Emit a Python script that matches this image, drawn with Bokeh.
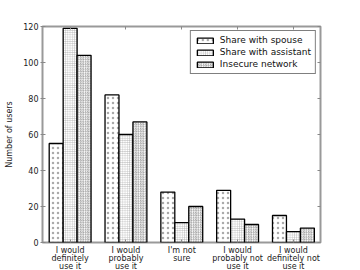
from bokeh.plotting import figure
from bokeh.models import Range1d, LinearAxis, FixedTicker, Legend, LegendItem, ColumnDataSource
from bokeh.embed import file_html
from bokeh.resources import INLINE

categories = ["I would\ndefinitely\nuse it", "I would\nprobably\nuse it", "I'm not\nsure",
              "I would\nprobably not\nuse it", "I would\ndefinitely not\nuse it"]
spouse = [55, 82, 28, 29, 15]
assistant = [119, 60, 11, 13, 6]
insecure = [104, 67, 20, 10, 8]
series_names = ["Share with spouse", "Share with assistant", "Insecure network"]
y_ticks = [0, 20, 40, 60, 80, 100, 120]

FONT = "DejaVu Sans"

p = figure(frame_width=278, frame_height=216, output_backend="svg", toolbar_location=None,
           x_range=Range1d(-0.495, 4.485), y_range=Range1d(0, 120),
           min_border_left=42, min_border_top=26, min_border_right=29, min_border_bottom=26)
p.background_fill_color = "white"
p.border_fill_color = "white"
p.outline_line_color = "#999999"
p.outline_line_width = 2
p.grid.visible = False

bw = 0.25
idx = list(range(len(categories)))
styles = [
    dict(hatch_pattern="dot", hatch_scale=5, hatch_color="#aaaaaa", hatch_weight=1),
    dict(hatch_pattern="cross", hatch_scale=2.2, hatch_color="#aaaaaa", hatch_weight=0.6),
    dict(hatch_pattern="right_diagonal_line", hatch_scale=2.4, hatch_color="#999999", hatch_weight=0.8),
]
renderers = []
for k, vals in enumerate([spouse, assistant, insecure]):
    src = ColumnDataSource(dict(x=[i + (k - 1) * bw for i in idx], top=vals))
    r = p.vbar(x="x", top="top", width=bw, bottom=0, source=src,
               fill_color="white", line_color="black", line_width=1.3, **styles[k])
    renderers.append(r)

# axes
xa = p.xaxis[0]
xa.ticker = FixedTicker(ticks=idx)
xa.major_label_overrides = {i: c for i, c in zip(idx, categories)}
ya = p.yaxis[0]
ya.ticker = FixedTicker(ticks=y_ticks)
ya.axis_label = "Number of users"
for ax in (xa, ya):
    ax.axis_line_color = None
    ax.major_tick_in = 3
    ax.major_tick_out = 2
    ax.minor_tick_line_color = None
    ax.major_tick_line_color = "#888888"
    ax.major_label_text_font = FONT
    ax.major_label_text_font_size = "8px"
    ax.major_label_text_color = "#222222"
    ax.major_label_standoff = 2
xa.major_tick_out = 0
xa.major_label_standoff = 3
xa.major_label_text_line_height = 0.93
ya.axis_label_text_font = FONT
ya.axis_label_text_font_size = "8px"
ya.axis_label_text_font_style = "normal"
ya.axis_label_text_color = "#222222"
ya.axis_label_standoff = 6

top = LinearAxis(ticker=FixedTicker(ticks=idx))
right = LinearAxis(ticker=FixedTicker(ticks=y_ticks))
for ax in (top, right):
    ax.axis_line_color = None
    ax.major_tick_in = 3
    ax.major_tick_out = 0
    ax.minor_tick_line_color = None
    ax.major_tick_line_color = "#888888"
    ax.major_label_text_font_size = "0px"
    ax.major_label_text_color = None
    ax.major_label_standoff = 0
p.add_layout(top, "above")
p.add_layout(right, "right")

legend = Legend(items=[LegendItem(label=n, renderers=[r]) for n, r in zip(series_names, renderers)],
                location="top_right")
legend.label_text_font = FONT
legend.label_text_font_size = "9px"
legend.label_text_color = "#111111"
legend.glyph_width = 20
legend.glyph_height = 7
legend.label_height = 9
legend.spacing = 2
legend.padding = 4
legend.margin = 4
legend.border_line_color = "black"
legend.border_line_width = 1
legend.background_fill_alpha = 1
p.add_layout(legend)

open("out.html", "w").write(file_html(p, INLINE))
